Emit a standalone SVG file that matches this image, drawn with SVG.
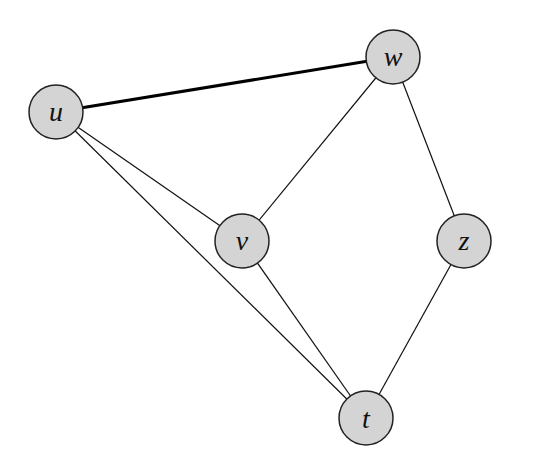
<svg xmlns="http://www.w3.org/2000/svg" width="541" height="470" viewBox="0 0 541 470">
<style>
.n{fill:#d4d4d4;stroke:#222;stroke-width:1.5}
.l{font-family:"Liberation Serif",serif;font-style:italic;font-size:28px;fill:#111;text-anchor:middle}
.e{stroke:#111;stroke-width:1.2;fill:none}
.b{stroke:#000;stroke-width:3;fill:none}
</style>
<rect width="541" height="470" fill="#fff"/>
<g id="edges">
<line class="b" x1="56" y1="112" x2="393" y2="57"/>
<line class="e" x1="56" y1="112" x2="242" y2="241"/>
<line class="e" x1="56" y1="112" x2="366" y2="418"/>
<line class="e" x1="393" y1="57" x2="242" y2="241"/>
<line class="e" x1="393" y1="57" x2="464" y2="241"/>
<line class="e" x1="242" y1="241" x2="366" y2="418"/>
<line class="e" x1="464" y1="241" x2="366" y2="418"/>
</g>
<g id="u"><circle class="n" cx="56" cy="112" r="27"/><text class="l" x="56" y="121">u</text></g>
<g id="w"><circle class="n" cx="393" cy="57" r="27"/><text class="l" x="393" y="66">w</text></g>
<g id="v"><circle class="n" cx="242" cy="241" r="27"/><text class="l" x="242" y="250">v</text></g>
<g id="z"><circle class="n" cx="464" cy="241" r="27"/><text class="l" x="464" y="250">z</text></g>
<g id="t"><circle class="n" cx="366" cy="418" r="27"/><text class="l" x="366" y="428">t</text></g>
</svg>
